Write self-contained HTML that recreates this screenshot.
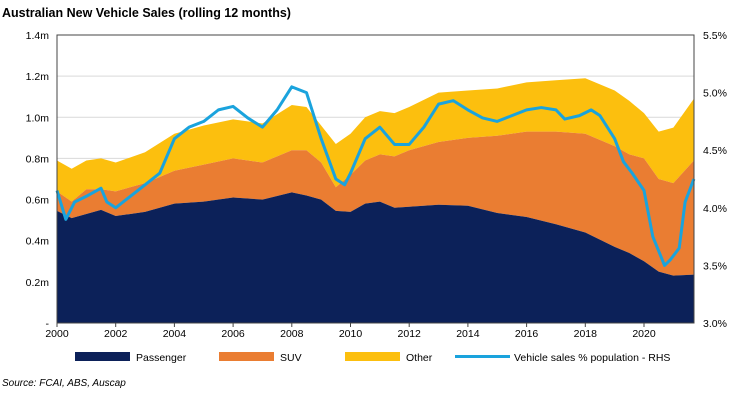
<!DOCTYPE html>
<html><head><meta charset="utf-8"><style>
body{margin:0;background:#fff;font-family:"Liberation Sans",Arial,sans-serif}
svg text{font-family:"Liberation Sans",Arial,sans-serif}
</style></head><body>
<svg id="c" width="751" height="412">
<text x="2" y="17" font-size="12.5" font-weight="bold" fill="#000">Australian New Vehicle Sales (rolling 12 months)</text>
<g id="grid"></g><g id="areas"></g><g id="line"></g><g id="axes"></g>
<g>
<rect x="75" y="352" width="55" height="9" fill="#0c2159"/>
<text x="136" y="361" font-size="10.5">Passenger</text>
<rect x="219" y="352" width="55" height="9" fill="#ea7d32"/>
<text x="280" y="361" font-size="10.5">SUV</text>
<rect x="345" y="352" width="55" height="9" fill="#fcbf0e"/>
<text x="406" y="361" font-size="10.5">Other</text>
<line x1="455" y1="356.5" x2="510" y2="356.5" stroke="#1aa3dd" stroke-width="3"/>
<text x="514" y="361" font-size="10.5">Vehicle sales % population - RHS</text>
</g>
<text x="2" y="386" font-size="10" font-style="italic">Source: FCAI, ABS, Auscap</text>
</svg>
<script>
const years=[2000,2000.5,2001,2001.5,2002,2003,2004,2005,2006,2007,2008,2008.5,2009,2009.5,2010,2010.5,2011,2011.5,2012,2013,2014,2015,2016,2017,2018,2019,2019.5,2020,2020.5,2021,2021.7];
const passenger=[0.545,0.51,0.53,0.55,0.52,0.54,0.58,0.59,0.61,0.60,0.635,0.62,0.60,0.545,0.54,0.58,0.59,0.56,0.565,0.575,0.57,0.535,0.515,0.48,0.44,0.37,0.34,0.30,0.25,0.23,0.235];
const suv=[0.095,0.08,0.12,0.10,0.12,0.14,0.16,0.18,0.19,0.18,0.205,0.22,0.18,0.115,0.18,0.21,0.23,0.25,0.275,0.305,0.33,0.375,0.415,0.45,0.48,0.49,0.48,0.50,0.45,0.45,0.555];
const other=[0.15,0.16,0.14,0.15,0.14,0.15,0.18,0.19,0.19,0.19,0.22,0.21,0.18,0.21,0.20,0.21,0.21,0.21,0.21,0.24,0.23,0.23,0.24,0.25,0.27,0.27,0.26,0.22,0.23,0.27,0.30];
const lineYears=[2000,2000.3,2000.6,2001,2001.5,2001.7,2002,2002.5,2003,2003.5,2004,2004.5,2005,2005.5,2006,2006.5,2007,2007.5,2008,2008.5,2009,2009.5,2009.8,2010,2010.5,2011,2011.5,2012,2012.5,2013,2013.5,2014,2014.5,2015,2015.5,2016,2016.5,2017,2017.3,2017.8,2018.2,2018.5,2019,2019.3,2019.6,2020,2020.3,2020.7,2020.9,2021.2,2021.4,2021.7];
const linePct=[4.15,3.9,4.05,4.1,4.17,4.05,4.0,4.1,4.2,4.3,4.6,4.7,4.75,4.85,4.88,4.78,4.7,4.85,5.05,5.0,4.6,4.25,4.2,4.3,4.6,4.7,4.55,4.55,4.7,4.9,4.93,4.85,4.78,4.75,4.8,4.85,4.87,4.85,4.77,4.8,4.85,4.8,4.6,4.4,4.3,4.15,3.75,3.5,3.55,3.65,4.05,4.25];
const leftTicks=[0,0.2,0.4,0.6,0.8,1.0,1.2,1.4];
const leftLabels=["-","0.2m","0.4m","0.6m","0.8m","1.0m","1.2m","1.4m"];
const rightTicks=[3.0,3.5,4.0,4.5,5.0,5.5];
const rightLabels=["3.0%","3.5%","4.0%","4.5%","5.0%","5.5%"];
const xTicks=[2000,2002,2004,2006,2008,2010,2012,2014,2016,2018,2020];

const L=57,R=694,T=35,B=323;
const X=t=>L+(t-2000)*29.35;
const Y=v=>B-v/1.4*(B-T);
const Y2=p=>B-(p-3)/2.5*(B-T);
const NS="http://www.w3.org/2000/svg";
function mk(tag,parent,attrs){const e=document.createElementNS(NS,tag);for(const k in attrs)e.setAttribute(k,attrs[k]);parent.appendChild(e);return e;}
const grid=document.getElementById('grid'),areas=document.getElementById('areas'),lineG=document.getElementById('line'),axes=document.getElementById('axes');
leftTicks.forEach((v,i)=>{
 if(v>0&&v<1.4){const g=mk('line',grid,{x1:L,x2:R,y1:Y(v),y2:Y(v),stroke:'#d9d9d9','stroke-width':1});
 
 }
 const t=mk('text',axes,{x:49,y:Y(v)+4,'font-size':10.5,'text-anchor':'end'});t.textContent=leftLabels[i];
 
 
});
rightTicks.forEach((p,i)=>{const t=mk('text',axes,{x:703,y:Y2(p)+4,'font-size':10.5});t.textContent=rightLabels[i];
 
 });
xTicks.forEach(yr=>{const t=mk('text',axes,{x:X(yr),y:337,'font-size':10.5,'text-anchor':'middle'});t.textContent=yr;
 
 
 mk('line',axes,{x1:X(yr),x2:X(yr),y1:B,y2:B+4,stroke:'#444'});});
const c1=passenger, c2=passenger.map((v,i)=>v+suv[i]), c3=c2.map((v,i)=>v+other[i]);
function area(top,bot,fill,name){
 let d='M'+years.map((t,i)=>X(t)+','+Y(top[i])).join('L');
 for(let i=years.length-1;i>=0;i--)d+='L'+X(years[i])+','+Y(bot?bot[i]:0);
 const p=mk('path',areas,{d:d+'Z',fill:fill});
 
 
}
area(c3,c2,'#fcbf0e','other-area');
area(c2,c1,'#ea7d32','suv-area');
area(c1,null,'#0c2159','passenger-area');
const lp=mk('polyline',lineG,{points:lineYears.map((t,i)=>X(t)+','+Y2(linePct[i])).join(' '),fill:'none',stroke:'#1aa3dd','stroke-width':3,'stroke-linejoin':'round'});


const fr=mk('rect',axes,{x:L,y:T,width:R-L,height:B-T,fill:'none',stroke:'#444','stroke-width':1});


</script>
</body></html>
